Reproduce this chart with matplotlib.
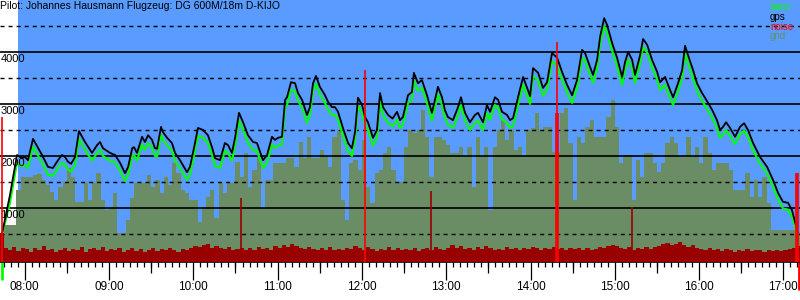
import matplotlib
matplotlib.use('Agg')
import matplotlib.pyplot as plt
import matplotlib.transforms as mtransforms

plt.rcParams['font.family'] = ['Liberation Sans', 'DejaVu Sans']

pilot = 'Johannes Hausmann'
glider = 'DG 600M/18m D-KIJO'

# all times in minutes after 08:00
gps_t = [
    -16.2, -10.5, -5.5, -1.9, 0.2, 2.3, 5.9, 12.3, 16.6, 20.1,
    23.7, 26.5, 28.7, 30.8, 33.0, 35.8, 38.6, 42.9, 47.9, 51.5,
    53.6, 55.7, 60.7, 64.3, 67.8, 71.4, 73.6, 76.5, 77.8, 79.9,
    83.5, 85.6, 87.8, 90.6, 92.7, 94.2, 97.0, 98.4, 101.3, 104.8,
    107.0, 110.5, 115.5, 117.6, 121.2, 123.3, 126.9, 130.4, 133.3, 135.4,
    139.0, 142.5, 144.7, 147.5, 149.7, 152.5, 155.4, 158.9, 162.5, 165.3,
    167.5, 169.6, 172.5, 176.0, 178.1, 180.3, 183.1, 185.3, 186.7, 189.5,
    192.4, 194.5, 197.4, 200.9, 203.0, 205.2, 207.3, 210.1, 213.7, 215.9,
    218.7, 220.8, 223.0, 226.5, 230.1, 232.9, 235.1, 237.2, 240.1, 242.2,
    244.3, 247.9, 250.7, 252.9, 255.0, 258.6, 261.8, 265.0, 267.1, 269.2,
    272.8, 275.6, 277.0, 279.9, 282.7, 286.3, 289.8, 292.0, 294.1, 297.0,
    299.1, 301.2, 304.8, 308.4, 310.5, 313.4, 316.9, 320.5, 322.6, 326.2,
    329.0, 331.2, 334.7, 336.9, 339.7, 343.3, 345.4, 347.6, 351.1, 354.7,
    357.6, 359.7, 361.8, 365.4, 368.9, 371.8, 375.3, 378.9, 382.4, 386.0,
    389.6, 393.1, 396.7, 398.8, 402.4, 404.5, 407.4, 409.5, 412.4, 414.5,
    418.1, 421.6, 425.2, 427.3, 429.5, 432.3, 434.4, 438.0, 440.1, 443.0,
    446.5, 450.1, 452.2, 455.8, 459.3, 461.5, 465.0, 467.9, 470.0, 472.1,
    475.7, 478.5, 482.1, 484.2, 489.2, 492.7, 494.9, 497.0, 499.2, 502.0,
    505.6, 509.1, 512.0, 514.8, 518.4, 523.4, 528.4, 532.6, 536.2, 539.7,
    543.3, 546.1, 548.3, 549.7,
]
gps_alt = [
    500, 1250, 2020, 1960, 1980, 1920, 2330, 2020, 1790, 1770,
    1920, 2020, 1980, 1890, 1850, 1980, 2480, 2270, 2060, 2210,
    2270, 2150, 2060, 2020, 1870, 1670, 1790, 2150, 2170, 2060,
    2370, 2270, 2400, 2310, 2150, 2140, 2560, 2460, 2350, 2250,
    2060, 1920, 1690, 1790, 2250, 2540, 2500, 2400, 2170, 1960,
    1920, 2250, 2210, 2060, 2350, 2830, 2650, 2400, 2270, 2250,
    2080, 1920, 2020, 2370, 2310, 2350, 2370, 3080, 3130, 3420,
    3400, 3210, 3080, 2790, 2940, 3400, 3540, 3330, 3170, 3040,
    2940, 2940, 2850, 2540, 2250, 2150, 2460, 3120, 2980, 2750,
    2650, 2350, 2500, 3210, 2940, 2790, 2720, 2850, 2690, 2750,
    3170, 3230, 3600, 3400, 3460, 3170, 2830, 3080, 3330, 3130,
    2880, 2750, 2690, 2940, 3130, 2830, 2650, 2790, 2830, 2650,
    2980, 2850, 3130, 3080, 2850, 2790, 2690, 2730, 3130, 3520,
    3310, 3150, 3690, 3600, 3310, 3420, 3980, 3890, 3620, 3370,
    3170, 3460, 4040, 3980, 3710, 3560, 3850, 4290, 4650, 4520,
    4170, 3890, 3520, 3810, 4000, 3850, 3560, 3940, 4250, 4140,
    3850, 3620, 3420, 3520, 3270, 3130, 3400, 3650, 4120, 3940,
    3650, 3400, 3210, 3120, 2890, 2690, 2500, 2560, 2650, 2540,
    2370, 2560, 2630, 2500, 2250, 1980, 1790, 1540, 1290, 1120,
    1100, 960, 730, 580,
]
baro_alt = [
    480, 1100, 1870, 1810, 1830, 1770, 2180, 1870, 1640, 1620,
    1770, 1870, 1830, 1740, 1700, 1830, 2330, 2120, 1910, 2060,
    2120, 2000, 1910, 1870, 1720, 1520, 1640, 2000, 2020, 1910,
    2220, 2120, 2250, 2160, 2000, 1990, 2410, 2310, 2200, 2100,
    1910, 1770, 1540, 1640, 2100, 2390, 2350, 2250, 2020, 1810,
    1770, 2100, 2060, 1910, 2200, 2680, 2500, 2250, 2120, 2100,
    1930, 1770, 1870, 2220, 2160, 2200, 2220, 2930, 2980, 3270,
    3250, 3060, 2930, 2640, 2790, 3250, 3390, 3180, 3020, 2890,
    2790, 2790, 2700, 2390, 2100, 2000, 2310, 2970, 2830, 2600,
    2500, 2200, 2350, 3060, 2790, 2640, 2570, 2700, 2540, 2600,
    3020, 3080, 3450, 3250, 3310, 3020, 2680, 2930, 3180, 2980,
    2730, 2600, 2540, 2790, 2980, 2680, 2500, 2640, 2680, 2500,
    2830, 2700, 2980, 2930, 2700, 2640, 2540, 2580, 2980, 3370,
    3160, 3000, 3540, 3450, 3160, 3270, 3830, 3740, 3470, 3220,
    3020, 3310, 3890, 3830, 3560, 3410, 3700, 4140, 4500, 4370,
    4020, 3740, 3370, 3660, 3850, 3700, 3410, 3790, 4100, 3990,
    3700, 3470, 3270, 3370, 3120, 2980, 3250, 3500, 3970, 3790,
    3500, 3250, 3060, 2970, 2740, 2540, 2350, 2410, 2500, 2390,
    2230, 2420, 2490, 2360, 2110, 1850, 1660, 1410, 1160, 990,
    970, 830, 640, 540,
]

# ground elevation and engine noise, one sample every 3 minutes from 07:42
sample_start = -18
sample_step = 3
gnd_alt = [
    520, 670, 670, 670, 1350, 1600, 1600, 1600, 1630, 1650,
    1540, 1440, 1300, 1150, 1400, 1500, 1770, 1600, 1120, 1120,
    1480, 1150, 1480, 1670, 1150, 960, 1020, 1290, 520, 520,
    770, 1200, 1480, 1480, 1480, 1630, 1400, 1540, 1290, 1600,
    1450, 1870, 1670, 1350, 1290, 1150, 1150, 730, 1020, 1210,
    1350, 810, 1480, 1290, 1480, 1480, 1880, 1600, 2060, 1400,
    1730, 1980, 1000, 1540, 1540, 1870, 1870, 1870, 1960, 1960,
    1790, 2270, 1960, 2370, 1960, 1960, 2120, 1980, 1790, 2370,
    2500, 1150, 770, 1870, 1920, 1730, 2310, 1400, 1100, 1670,
    1730, 2060, 2170, 1730, 1500, 1500, 2170, 2500, 2440, 2500,
    2880, 2370, 1600, 2370, 2370, 2310, 2210, 2060, 2060, 2170,
    1980, 2170, 1400, 2370, 1980, 2170, 960, 2170, 2500, 2690,
    2310, 2500, 2120, 2170, 2000, 2500, 2540, 2830, 2500, 2560,
    2560, 2080, 2080, 2830, 2920, 2250, 1150, 2370, 2250, 2560,
    2690, 2370, 2370, 2370, 2750, 3080, 2560, 1870, 2020, 2020,
    1150, 1920, 1600, 2060, 2060, 1870, 1700, 1870, 2250, 2370,
    2250, 1980, 1980, 2370, 1980, 2170, 1870, 2370, 2060, 1730,
    1870, 1870, 1870, 1730, 1350, 1350, 1350, 1670, 1210, 1540,
    1210, 1600, 1100, 580, 580, 580, 580, 580, 580, 540,
    480,
]
noise_level = [
    110, 52, 45, 58, 42, 55, 48, 40, 52, 45,
    60, 44, 50, 38, 47, 55, 42, 50, 46, 58,
    40, 48, 52, 44, 57, 41, 49, 45, 53, 40,
    47, 55, 43, 50, 38, 46, 52, 41, 48, 44,
    55, 47, 40, 50, 46, 53, 62, 58, 66, 70,
    55, 60, 52, 48, 57, 45, 50, 54, 46, 52,
    44, 58, 49, 55, 47, 60, 52, 66, 58, 70,
    62, 54, 48, 57, 50, 45, 53, 47, 58, 44,
    50, 46, 55, 48, 60, 52, 45, 56, 49, 43,
    51, 47, 58, 46, 53, 44, 50, 47, 55, 42,
    48, 53, 45, 57, 49, 44, 52, 64, 55, 60,
    48, 53, 46, 58, 50, 62, 54, 47, 51, 45,
    56, 49, 53, 46, 55, 50, 58, 52, 47, 55,
    50, 57, 48, 53, 46, 52, 49, 55, 47, 53,
    45, 51, 58, 54, 62, 66, 60, 55, 50, 57,
    47, 53, 49, 56, 51, 58, 62, 68, 72, 65,
    70, 75, 63, 58, 66, 55, 50, 46, 52, 44,
    48, 42, 50, 45, 40, 47, 43, 49, 41, 46,
    44, 40, 47, 42, 45, 41, 44, 48, 52, 60,
    110,
]
spike_t = [-16.2, 154.1, 242.3, 289.2, 378.2, 378.9, 379.6, 432.3, 548.9, 549.7, 550.5]
spike_v = [553, 244, 733, 271, 570, 840, 570, 210, 340, 340, 340]

sky_start = -4.8
takeoff_t = -16.2
landing_t = 550.8
hours = list(range(8, 18))

SKY = '#599bff'
GND = '#6a8d65'
DARKRED = '#990000'
RED = '#ff0000'
BARO = '#00ff00'

t0, t1 = -17.6, 551.8
fig = plt.figure(figsize=(8, 3), dpi=100)
ax = fig.add_axes([0, 38 / 300, 1, 262 / 300])
ax.set_xlim(t0, t1)
ax.set_ylim(-38, 5000)

sample_t = [sample_start + sample_step * i for i in range(len(gnd_alt))]
ax.axvspan(sky_start, t1, color=SKY, lw=0, zorder=0)
ax.fill_between(sample_t, gnd_alt, -38, step='post', color=GND, lw=0, zorder=1)

for v in range(500, 5000, 500):
    if v % 1000 == 0:
        ax.axhline(v, color='black', lw=1.2, zorder=2)
    else:
        ax.axhline(v, color='black', lw=1.0, ls=(0, (2.9, 2.9)), zorder=2)

ax.plot(gps_t, baro_alt, color=BARO, lw=1.5, zorder=4)
ax.plot(gps_t, gps_alt, color='black', lw=1.3, zorder=5)

for v in range(1000, 5000, 1000):
    ax.annotate(str(v), xy=(0, v), xycoords=('axes fraction', 'data'),
                xytext=(0.5, -2), textcoords='offset pixels',
                va='top', ha='left', fontsize=8, zorder=6)

# noise on its own scale
nx = ax.twinx()
nx.set_ylim(0, 1000)
nx.fill_between(sample_t, noise_level, 0, step='post', color=DARKRED, lw=0)
nx.vlines(spike_t, 0, spike_v, colors=[RED if v > 280 else DARKRED for v in spike_v], lw=1.2)
nx.set_yticks([])
for s in nx.spines.values():
    s.set_visible(False)

# axes and ticks
for side in ('left', 'top', 'right'):
    ax.spines[side].set_visible(False)
ax.spines['bottom'].set_linewidth(1.2)
ax.spines['bottom'].set_zorder(7)
ax.set_yticks([])
ax.set_xticks([60 * (h - 8) for h in hours])
ax.set_xticklabels([f'{h:02d}:00' for h in hours], fontsize=8.5)
ax.set_xticks(range(-15, 552, 5), minor=True)
ax.tick_params(axis='x', which='major', length=13, width=0.9, pad=1)
ax.tick_params(axis='x', which='minor', length=3.6, width=0.9)
half = ax.secondary_xaxis('bottom')
half.set_xticks([30 + 60 * (h - 8) for h in hours])
half.tick_params(axis='x', length=8, width=0.9, labelbottom=False)
half.spines['bottom'].set_visible(False)

below = mtransforms.blended_transform_factory(ax.transData, ax.transAxes)
ax.vlines(takeoff_t, -18 / 262, 0, transform=below, color=BARO, lw=2, clip_on=False)
ax.vlines(landing_t, -28 / 262, 0, transform=below, color=RED, lw=2, clip_on=False)

fig.text(0.0, 1 - 1 / 300, f'Pilot: {pilot} Flugzeug: {glider}', va='top', ha='left', fontsize=7.5)
legend = [('baro', BARO), ('gps', 'black'), ('noise', RED), ('gnd', GND)]
for i, (name, col) in enumerate(legend):
    fig.text(770 / 800, 1 - (7 + 9.8 * i) / 300, name, color=col, va='center', ha='left', fontsize=7)

fig.savefig('out.png', dpi=100)
